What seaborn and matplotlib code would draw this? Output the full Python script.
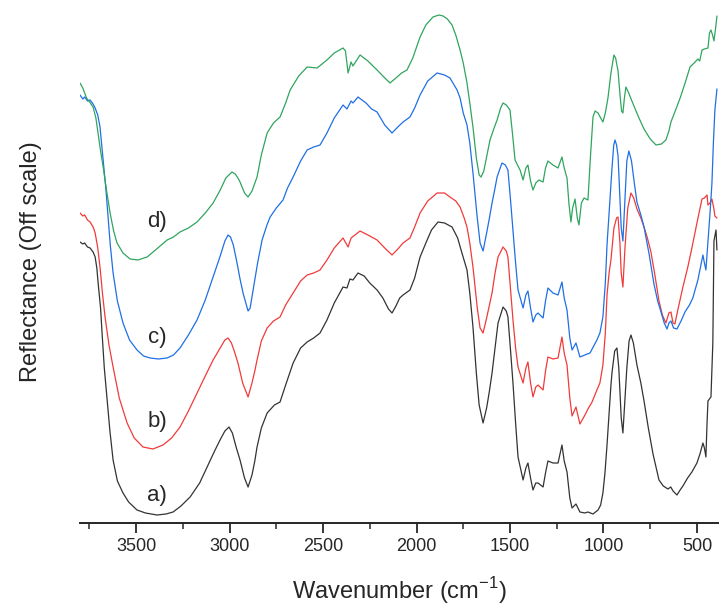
import pandas as pd
import matplotlib.pyplot as plt
import seaborn as sns

# (wavenumber cm-1, offset reflectance) pairs
spec_a = [(3800, 2.81), (3785, 2.79), (3775, 2.80), (3760, 2.76), (3746, 2.75), (3730, 2.71), (3719, 2.66),
          (3710, 2.55), (3703, 2.40), (3690, 2.15), (3682, 1.90), (3670, 1.55), (3655, 1.23), (3640, 0.92),
          (3623, 0.63), (3600, 0.42), (3570, 0.30), (3540, 0.21), (3495, 0.13), (3450, 0.10), (3388, 0.08),
          (3340, 0.09), (3302, 0.11), (3260, 0.17), (3211, 0.26), (3160, 0.40), (3120, 0.56), (3080, 0.72),
          (3051, 0.83), (3025, 0.92), (3003, 0.96), (2985, 0.90), (2965, 0.76), (2944, 0.63), (2920, 0.45),
          (2901, 0.36), (2880, 0.48), (2865, 0.62), (2853, 0.76), (2830, 0.95), (2799, 1.10), (2760, 1.18),
          (2730, 1.21), (2700, 1.38), (2660, 1.60), (2620, 1.75), (2585, 1.81), (2550, 1.85), (2516, 1.90),
          (2479, 2.03), (2440, 2.20), (2393, 2.36), (2372, 2.35), (2356, 2.44), (2340, 2.43), (2313, 2.50),
          (2280, 2.47), (2250, 2.40), (2211, 2.33), (2180, 2.25), (2150, 2.14), (2131, 2.10), (2110, 2.17),
          (2090, 2.25), (2072, 2.28), (2035, 2.33), (2010, 2.45), (1981, 2.66), (1950, 2.80), (1920, 2.93),
          (1885, 3.01), (1850, 3.00), (1810, 2.96), (1780, 2.85), (1757, 2.70), (1730, 2.53), (1715, 2.30),
          (1698, 1.96), (1680, 1.50), (1665, 1.18), (1644, 1.00), (1625, 1.15), (1610, 1.32), (1596, 1.50),
          (1580, 1.75), (1564, 2.00), (1537, 2.16), (1520, 2.12), (1511, 2.06), (1498, 1.75), (1484, 1.40),
          (1470, 1.00), (1457, 0.66), (1430, 0.43), (1415, 0.55), (1404, 0.60), (1390, 0.45), (1377, 0.33),
          (1362, 0.40), (1350, 0.40), (1323, 0.36), (1310, 0.50), (1297, 0.62), (1270, 0.60), (1243, 0.60),
          (1222, 0.78), (1210, 0.62), (1195, 0.51), (1180, 0.25), (1168, 0.15), (1147, 0.19), (1126, 0.11),
          (1100, 0.10), (1083, 0.11), (1056, 0.09), (1029, 0.13), (1015, 0.18), (1003, 0.30), (992, 0.50),
          (981, 0.78), (970, 1.10), (960, 1.38), (954, 1.51), (940, 1.72), (928, 1.75), (918, 1.55),
          (905, 1.05), (896, 0.90), (888, 1.15), (875, 1.55), (863, 1.82), (853, 1.88), (840, 1.80),
          (821, 1.58), (800, 1.40), (783, 1.22), (760, 0.95), (735, 0.69), (718, 0.55), (703, 0.43),
          (680, 0.37), (655, 0.34), (640, 0.36), (628, 0.32), (607, 0.28), (590, 0.33), (575, 0.37),
          (550, 0.45), (527, 0.51), (500, 0.60), (484, 0.69), (468, 0.80), (460, 0.75), (452, 0.66),
          (446, 1.00), (441, 1.22), (425, 1.26), (415, 1.80), (409, 2.82), (398, 2.93), (393, 2.73)]

spec_b = [(3800, 3.10), (3785, 3.07), (3775, 3.08), (3760, 3.03), (3746, 3.01), (3730, 2.96), (3719, 2.90),
          (3705, 2.75), (3693, 2.56), (3680, 2.30), (3666, 2.06), (3645, 1.78), (3623, 1.56), (3590, 1.25),
          (3548, 1.00), (3510, 0.85), (3463, 0.76), (3410, 0.74), (3356, 0.78), (3310, 0.85), (3265, 0.96),
          (3220, 1.12), (3174, 1.30), (3130, 1.47), (3088, 1.63), (3050, 1.75), (3025, 1.83), (3008, 1.85),
          (2990, 1.80), (2975, 1.72), (2955, 1.60), (2930, 1.40), (2901, 1.26), (2880, 1.40), (2865, 1.52),
          (2853, 1.63), (2830, 1.82), (2799, 1.95), (2765, 2.02), (2730, 2.06), (2700, 2.18), (2660, 2.30),
          (2620, 2.42), (2585, 2.48), (2550, 2.50), (2516, 2.53), (2479, 2.63), (2440, 2.75), (2393, 2.85),
          (2366, 2.76), (2350, 2.85), (2302, 2.92), (2260, 2.88), (2211, 2.83), (2170, 2.75), (2131, 2.68),
          (2100, 2.74), (2072, 2.80), (2035, 2.85), (2010, 2.96), (1981, 3.10), (1940, 3.22), (1890, 3.30),
          (1850, 3.30), (1821, 3.26), (1790, 3.22), (1767, 3.16), (1745, 3.05), (1730, 2.96), (1715, 2.80),
          (1698, 2.56), (1675, 2.15), (1660, 1.95), (1644, 1.90), (1625, 2.05), (1610, 2.18), (1596, 2.30),
          (1580, 2.50), (1564, 2.66), (1537, 2.76), (1520, 2.72), (1511, 2.66), (1498, 2.35), (1484, 2.03),
          (1470, 1.75), (1457, 1.56), (1430, 1.40), (1415, 1.55), (1404, 1.61), (1390, 1.40), (1377, 1.26),
          (1362, 1.36), (1350, 1.38), (1323, 1.33), (1310, 1.52), (1297, 1.66), (1270, 1.64), (1243, 1.65),
          (1222, 1.86), (1210, 1.70), (1195, 1.58), (1180, 1.25), (1168, 1.07), (1147, 1.16), (1126, 0.99),
          (1099, 1.08), (1080, 1.15), (1061, 1.21), (1035, 1.33), (1019, 1.40), (1003, 1.58), (990, 1.90),
          (981, 2.28), (970, 2.50), (960, 2.63), (944, 2.95), (930, 3.05), (922, 3.06), (912, 2.80),
          (905, 2.50), (896, 2.36), (885, 2.75), (870, 3.15), (853, 3.30), (838, 3.25), (821, 3.14),
          (800, 3.05), (783, 2.96), (765, 2.85), (746, 2.71), (725, 2.48), (703, 2.22), (685, 2.08),
          (666, 2.00), (650, 2.10), (639, 2.11), (628, 2.00), (618, 1.99), (600, 2.15), (575, 2.36),
          (550, 2.55), (527, 2.75), (500, 3.00), (473, 3.24), (460, 3.25), (446, 3.28), (441, 3.18),
          (430, 3.20), (420, 3.24), (410, 3.15), (404, 3.07), (393, 3.05)]

spec_c = [(3800, 4.28), (3785, 4.24), (3775, 4.26), (3760, 4.22), (3746, 4.23), (3730, 4.19), (3719, 4.15),
          (3705, 4.08), (3693, 3.96), (3685, 3.80), (3676, 3.63), (3662, 3.35), (3650, 3.06), (3638, 2.78),
          (3623, 2.50), (3600, 2.22), (3570, 2.00), (3535, 1.83), (3495, 1.73), (3460, 1.67), (3425, 1.65),
          (3380, 1.64), (3334, 1.65), (3300, 1.68), (3265, 1.75), (3220, 1.88), (3174, 2.03), (3130, 2.23),
          (3088, 2.46), (3050, 2.67), (3025, 2.82), (3008, 2.88), (2995, 2.86), (2980, 2.78), (2960, 2.60),
          (2945, 2.45), (2928, 2.30), (2901, 2.12), (2890, 2.15), (2874, 2.33), (2850, 2.60), (2826, 2.83),
          (2800, 2.98), (2783, 3.06), (2750, 3.15), (2714, 3.23), (2690, 3.35), (2660, 3.46), (2620, 3.62),
          (2585, 3.73), (2550, 3.76), (2516, 3.78), (2479, 3.90), (2440, 4.05), (2393, 4.18), (2372, 4.14),
          (2350, 4.22), (2340, 4.20), (2313, 4.26), (2270, 4.20), (2240, 4.14), (2211, 4.11), (2170, 3.98),
          (2131, 3.90), (2100, 3.96), (2072, 4.01), (2035, 4.06), (2010, 4.15), (1981, 4.28), (1940, 4.42),
          (1890, 4.50), (1850, 4.48), (1821, 4.45), (1783, 4.33), (1767, 4.25), (1750, 4.10), (1730, 3.98),
          (1715, 3.80), (1698, 3.50), (1675, 3.05), (1660, 2.80), (1644, 2.72), (1625, 2.90), (1610, 3.05),
          (1596, 3.20), (1580, 3.35), (1569, 3.46), (1543, 3.60), (1525, 3.58), (1511, 3.53), (1498, 3.25),
          (1484, 2.93), (1470, 2.60), (1457, 2.33), (1430, 2.15), (1415, 2.28), (1404, 2.32), (1390, 2.15),
          (1377, 2.01), (1362, 2.08), (1350, 2.10), (1323, 2.05), (1310, 2.22), (1297, 2.35), (1270, 2.30),
          (1243, 2.28), (1222, 2.41), (1210, 2.25), (1195, 2.13), (1180, 1.85), (1168, 1.73), (1147, 1.80),
          (1126, 1.66), (1100, 1.68), (1072, 1.70), (1035, 1.83), (1019, 1.90), (1003, 2.06), (990, 2.40),
          (981, 2.78), (965, 3.25), (954, 3.56), (945, 3.78), (938, 3.83), (930, 3.78), (922, 3.67),
          (912, 3.25), (905, 2.95), (896, 2.82), (885, 3.25), (875, 3.62), (864, 3.72), (850, 3.62),
          (835, 3.40), (821, 3.21), (800, 3.08), (783, 2.96), (755, 2.68), (730, 2.39), (710, 2.22),
          (692, 2.11), (675, 2.00), (660, 1.94), (650, 2.00), (639, 2.02), (625, 1.95), (607, 1.94),
          (585, 2.02), (564, 2.11), (540, 2.18), (522, 2.25), (495, 2.43), (468, 2.68), (460, 2.60),
          (452, 2.53), (441, 2.82), (430, 3.10), (420, 3.39), (412, 3.80), (404, 4.13), (393, 4.34)]

spec_d = [(3800, 4.40), (3785, 4.35), (3765, 4.25), (3745, 4.20), (3730, 4.16), (3715, 4.05), (3700, 3.85),
          (3690, 3.72), (3676, 3.56), (3660, 3.35), (3639, 3.10), (3620, 2.92), (3602, 2.80), (3570, 2.70),
          (3532, 2.64), (3490, 2.63), (3441, 2.66), (3390, 2.74), (3334, 2.83), (3300, 2.86), (3265, 2.91),
          (3220, 2.95), (3174, 3.01), (3130, 3.10), (3088, 3.20), (3050, 3.33), (3020, 3.45), (2987, 3.51),
          (2970, 3.49), (2955, 3.45), (2944, 3.41), (2920, 3.30), (2901, 3.26), (2880, 3.32), (2853, 3.46),
          (2830, 3.68), (2799, 3.90), (2765, 4.00), (2730, 4.06), (2700, 4.20), (2676, 4.33), (2630, 4.47),
          (2585, 4.56), (2532, 4.55), (2479, 4.63), (2440, 4.70), (2393, 4.75), (2380, 4.72), (2366, 4.50),
          (2350, 4.61), (2340, 4.57), (2302, 4.68), (2260, 4.62), (2211, 4.53), (2180, 4.47), (2142, 4.40),
          (2110, 4.45), (2080, 4.50), (2051, 4.53), (2020, 4.65), (1981, 4.86), (1950, 4.98), (1912, 5.06),
          (1880, 5.08), (1858, 5.07), (1835, 5.04), (1810, 4.98), (1790, 4.88), (1767, 4.73), (1750, 4.60),
          (1730, 4.40), (1715, 4.20), (1698, 3.96), (1680, 3.65), (1665, 3.48), (1655, 3.46), (1640, 3.52),
          (1625, 3.66), (1607, 3.83), (1585, 3.95), (1569, 4.03), (1550, 4.15), (1537, 4.20), (1520, 4.18),
          (1500, 4.13), (1487, 3.90), (1473, 3.63), (1460, 3.58), (1446, 3.53), (1430, 3.43), (1415, 3.55),
          (1404, 3.58), (1390, 3.42), (1377, 3.33), (1362, 3.40), (1345, 3.43), (1323, 3.41), (1310, 3.55),
          (1297, 3.62), (1270, 3.58), (1243, 3.55), (1222, 3.66), (1210, 3.55), (1195, 3.45), (1185, 3.20),
          (1174, 3.01), (1165, 3.15), (1152, 3.24), (1140, 3.05), (1131, 2.98), (1118, 3.20), (1104, 3.25),
          (1083, 3.23), (1070, 3.65), (1056, 4.06), (1045, 4.12), (1029, 4.10), (1015, 4.05), (1003, 4.01),
          (990, 4.10), (976, 4.25), (960, 4.50), (944, 4.68), (935, 4.65), (922, 4.52), (910, 4.25),
          (903, 4.12), (896, 4.10), (888, 4.25), (880, 4.36), (865, 4.30), (837, 4.17), (810, 4.05),
          (783, 3.94), (750, 3.84), (719, 3.78), (690, 3.79), (666, 3.83), (650, 3.92), (639, 4.01),
          (610, 4.15), (586, 4.27), (560, 4.42), (537, 4.56), (515, 4.60), (495, 4.64), (485, 4.62),
          (473, 4.73), (460, 4.74), (441, 4.75), (433, 4.90), (425, 4.93), (415, 4.87), (409, 4.82),
          (400, 4.95), (393, 5.07)]

labels = ["a)", "b)", "c)", "d)"]
label_pos = [0.28, 1.01, 1.85, 3.01]
colors = ["#333333", "#f23a3a", "#1f6fe5", "#2fa55e"]

sns.set_style("ticks")
plt.rcParams["font.family"] = ["Liberation Sans", "DejaVu Sans"]

fig = plt.figure(figsize=(7.19, 6.10), dpi=100)
ax = fig.add_axes([80 / 719, 87 / 610, 639 / 719, 523 / 610])

for spec, col in zip([spec_a, spec_b, spec_c, spec_d], colors):
    df = pd.DataFrame(spec, columns=["wn", "val"])
    sns.lineplot(data=df, x="wn", y="val", sort=False, estimator=None,
                 color=col, linewidth=0.9, ax=ax)

for lab, yv in zip(labels, label_pos):
    ax.text(3388, yv, lab, fontsize=16, ha="center", va="center")

ax.set_xlim(3800, 382)
ax.set_ylim(0, 5.23)
ax.set_xticks([3500, 3000, 2500, 2000, 1500, 1000, 500])
ax.set_xticks([3750, 3250, 2750, 2250, 1750, 1250, 750], minor=True)
ax.set_yticks([])
ax.tick_params(axis="x", which="major", length=7, width=1.3, labelsize=13, direction="out")
ax.tick_params(axis="x", which="minor", length=4, width=1.1, direction="out")
sns.despine(ax=ax, left=True, top=True, right=True)
ax.spines["bottom"].set_linewidth(1.4)
ax.set_xlabel("Wavenumber (cm$^{\\mathregular{-1}}$)", fontsize=17, labelpad=15)
ax.set_ylabel("Reflectance (Off scale)", fontsize=17, labelpad=27)

fig.savefig("out.png", dpi=100)
